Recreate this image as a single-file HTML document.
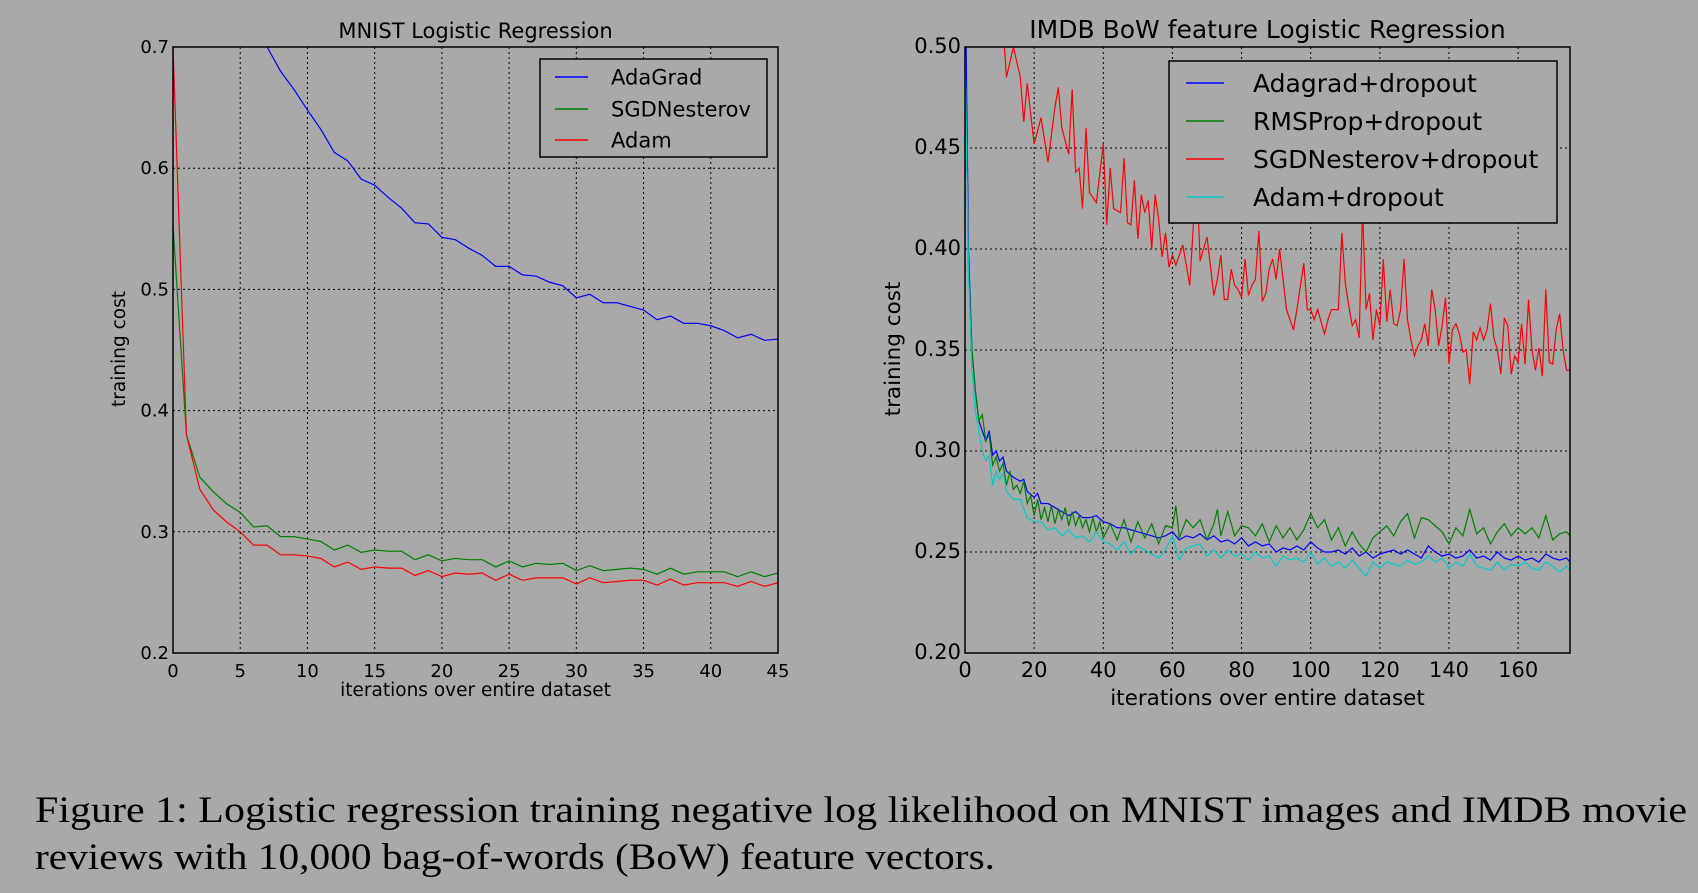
<!DOCTYPE html>
<html><head><meta charset="utf-8"><style>
html,body{margin:0;padding:0;background:#a9a9a9;}
svg{display:block;font-family:"DejaVu Sans","Liberation Sans",sans-serif;}
</style></head><body>
<svg id="fig" width="1698" height="893" viewBox="0 0 1698 893">
<rect x="0" y="0" width="1698" height="893" fill="#a9a9a9"/>
<defs>
<clipPath id="clipL"><rect x="173" y="47" width="605" height="606"/></clipPath>
<clipPath id="clipR"><rect x="965" y="47" width="605" height="606"/></clipPath>
</defs>
<g id="gL"></g>
<g id="gR"></g>
<text x="35" y="822" font-family="Liberation Serif, serif" font-size="37" fill="#000" textLength="1652" lengthAdjust="spacingAndGlyphs">Figure 1: Logistic regression training negative log likelihood on MNIST images and IMDB movie</text>
<text x="35" y="869" font-family="Liberation Serif, serif" font-size="37" fill="#000" textLength="960" lengthAdjust="spacingAndGlyphs">reviews with 10,000 bag-of-words (BoW) feature vectors.</text>
</svg>
<script>
// MNIST data
const mnistX = [...Array(46).keys()];
const mnistAdaGrad = [1.3,0.95,0.85,0.80,0.76,0.74,0.72,0.70,0.68,0.665,0.648,0.632,0.613,0.606,0.591,0.586,0.576,0.567,0.555,0.554,0.543,0.541,0.534,0.528,0.519,0.519,0.512,0.511,0.506,0.503,0.493,0.496,0.489,0.489,0.486,0.483,0.475,0.478,0.472,0.472,0.47,0.466,0.46,0.463,0.458,0.459];
const mnistSGD = [0.553,0.38,0.345,0.333,0.323,0.316,0.304,0.305,0.296,0.296,0.294,0.292,0.285,0.289,0.283,0.285,0.284,0.284,0.277,0.281,0.276,0.278,0.277,0.277,0.271,0.276,0.271,0.274,0.273,0.274,0.268,0.272,0.268,0.269,0.27,0.269,0.265,0.27,0.265,0.267,0.267,0.267,0.263,0.267,0.263,0.266];
const mnistAdam = [0.70,0.38,0.335,0.318,0.308,0.3,0.289,0.289,0.281,0.281,0.28,0.278,0.271,0.275,0.269,0.271,0.27,0.27,0.264,0.268,0.263,0.266,0.265,0.266,0.26,0.265,0.26,0.262,0.262,0.262,0.257,0.262,0.258,0.259,0.26,0.26,0.256,0.261,0.256,0.258,0.258,0.258,0.255,0.259,0.255,0.258];
const mnistXTicks = [0,5,10,15,20,25,30,35,40,45];
const mnistYTicks = [0.2,0.3,0.4,0.5,0.6,0.7];
const mnistYLabels = ["0.2","0.3","0.4","0.5","0.6","0.7"];

// IMDB data
const sgdX = [0,5,10,11,12,14,16,17,18,20,22,24,26,27,28,30,31,32,33,34,35,36,38,40,41,42,43,45,46,47,48,49,50,51,52,53,54,55,56,57,58,59,60,61,63,65,66,67,68,70,72,73,74,75,76,77,78,79,80,81,82,83,84,85,86,87,88,89,90,91,92,93,94,95,96,98,99,100,101,102,104,105,106,107,108,109,110,111,112,113,114,115,116,117,118,119,120,121,122,123,124,125,126,127,128,129,130,131,132,133,134,135,136,137,138,139,140,141,142,143,144,145,146,147,148,149,150,151,152,153,154,155,156,157,158,159,160,161,162,163,164,165,166,167,168,169,170,171,172,173,174,175];
const sgdY = [0.9,0.6,0.52,0.51,0.485,0.50,0.485,0.463,0.482,0.452,0.465,0.443,0.47,0.48,0.46,0.447,0.479,0.438,0.44,0.42,0.46,0.428,0.423,0.452,0.412,0.44,0.42,0.418,0.445,0.413,0.412,0.434,0.405,0.427,0.418,0.424,0.40,0.427,0.415,0.396,0.408,0.391,0.397,0.392,0.402,0.382,0.41,0.44,0.394,0.406,0.377,0.385,0.397,0.375,0.375,0.39,0.382,0.38,0.376,0.395,0.377,0.382,0.385,0.409,0.374,0.378,0.39,0.395,0.385,0.40,0.385,0.37,0.365,0.36,0.37,0.393,0.37,0.37,0.365,0.37,0.358,0.365,0.37,0.37,0.37,0.408,0.383,0.372,0.362,0.365,0.356,0.42,0.37,0.378,0.355,0.37,0.362,0.395,0.364,0.38,0.363,0.362,0.37,0.395,0.365,0.355,0.347,0.352,0.355,0.363,0.352,0.38,0.37,0.352,0.362,0.376,0.343,0.36,0.363,0.358,0.349,0.35,0.333,0.359,0.355,0.361,0.355,0.36,0.373,0.356,0.35,0.338,0.366,0.362,0.338,0.347,0.344,0.363,0.343,0.375,0.35,0.34,0.351,0.337,0.38,0.344,0.343,0.36,0.368,0.35,0.34,0.34];
const adaX = [0,1,2,3,4,5,6,7,8,9,10,11,12,14,16,17,18,20,21,22,24,26,28,30,32,34,36,38,40,42,44,46,48,50,52,54,56,58,60,62,64,66,68,70,72,74,76,78,80,82,84,86,88,90,92,94,96,98,100,102,104,106,108,110,112,114,116,118,120,122,124,126,128,130,132,134,136,138,140,142,144,146,148,150,152,154,156,158,160,162,164,166,168,170,172,174,175];
const adaY = [0.55,0.40,0.35,0.33,0.315,0.31,0.305,0.31,0.298,0.30,0.295,0.297,0.29,0.287,0.285,0.286,0.28,0.277,0.279,0.274,0.274,0.272,0.27,0.268,0.27,0.267,0.267,0.268,0.265,0.264,0.262,0.262,0.261,0.26,0.259,0.258,0.257,0.258,0.26,0.256,0.258,0.257,0.259,0.256,0.258,0.255,0.256,0.254,0.257,0.253,0.255,0.253,0.254,0.25,0.252,0.251,0.253,0.251,0.255,0.252,0.25,0.25,0.251,0.249,0.252,0.248,0.25,0.247,0.249,0.25,0.251,0.249,0.251,0.249,0.247,0.253,0.25,0.248,0.249,0.247,0.248,0.251,0.247,0.248,0.246,0.25,0.247,0.246,0.248,0.246,0.247,0.245,0.249,0.247,0.246,0.247,0.245];
const rmsX = [0,1,2,3,4,5,6,7,8,9,10,11,12,13,14,15,16,17,18,19,20,21,22,23,24,25,26,27,28,29,30,31,32,33,34,35,36,37,38,39,40,42,44,46,48,50,52,54,56,58,60,61,62,64,66,68,70,72,73,74,76,78,80,82,84,86,88,90,92,94,96,98,100,102,104,106,108,110,112,114,116,118,120,122,124,126,128,130,132,134,136,138,140,142,144,146,148,150,152,154,156,158,160,162,164,166,168,170,172,174,175];
const rmsY = [0.5,0.39,0.35,0.33,0.315,0.318,0.305,0.308,0.293,0.297,0.29,0.294,0.283,0.29,0.281,0.283,0.279,0.285,0.274,0.278,0.268,0.276,0.266,0.272,0.265,0.273,0.264,0.271,0.266,0.272,0.263,0.27,0.263,0.268,0.262,0.266,0.26,0.267,0.26,0.265,0.257,0.264,0.256,0.266,0.255,0.265,0.257,0.264,0.254,0.263,0.262,0.273,0.257,0.266,0.262,0.266,0.256,0.264,0.271,0.258,0.27,0.258,0.263,0.262,0.258,0.264,0.255,0.263,0.257,0.262,0.256,0.261,0.269,0.262,0.266,0.256,0.262,0.253,0.26,0.254,0.25,0.257,0.26,0.263,0.258,0.265,0.269,0.257,0.267,0.266,0.263,0.26,0.254,0.262,0.258,0.271,0.259,0.262,0.254,0.26,0.264,0.258,0.262,0.259,0.262,0.257,0.268,0.256,0.259,0.26,0.258];
const adamX = [0,1,2,3,4,5,6,7,8,9,10,11,12,14,16,18,20,22,24,26,28,30,32,34,36,38,40,42,44,46,48,50,52,54,56,58,60,62,64,66,68,70,72,74,76,78,80,82,84,86,88,90,92,94,96,98,100,102,104,106,108,110,112,114,116,118,120,122,124,126,128,130,132,134,136,138,140,142,144,146,148,150,152,154,156,158,160,162,164,166,168,170,172,174,175];
const adamY = [0.5,0.39,0.34,0.32,0.31,0.30,0.295,0.298,0.283,0.29,0.286,0.289,0.28,0.276,0.276,0.267,0.265,0.265,0.261,0.262,0.258,0.261,0.257,0.258,0.255,0.26,0.255,0.254,0.251,0.255,0.249,0.253,0.251,0.249,0.247,0.251,0.258,0.246,0.252,0.253,0.254,0.248,0.251,0.247,0.251,0.248,0.249,0.246,0.25,0.247,0.248,0.243,0.248,0.246,0.247,0.245,0.25,0.244,0.247,0.243,0.245,0.242,0.246,0.242,0.238,0.245,0.242,0.245,0.244,0.243,0.246,0.244,0.245,0.248,0.245,0.247,0.242,0.245,0.243,0.249,0.243,0.242,0.241,0.245,0.241,0.244,0.243,0.245,0.242,0.241,0.245,0.243,0.24,0.243,0.241];
const imdbXTicks = [0,20,40,60,80,100,120,140,160];
const imdbYTicks = [0.20,0.25,0.30,0.35,0.40,0.45,0.50];
const imdbYLabels = ["0.20","0.25","0.30","0.35","0.40","0.45","0.50"];

const NS = "http://www.w3.org/2000/svg";
function mk(parent, tag, attrs, txt){
  const e = document.createElementNS(NS, tag);
  for (const k in attrs) e.setAttribute(k, attrs[k]);
  if (txt !== undefined) e.textContent = txt;
  parent.appendChild(e);
  return e;
}

function drawChart(g, cfg){
  const L=cfg.left, R=cfg.right, T=47, B=653;
  const sx = v => L + (v - cfg.xmin)/(cfg.xmax - cfg.xmin)*(R-L);
  const sy = v => B - (v - cfg.ymin)/(cfg.ymax - cfg.ymin)*(B-T);
  const bg = mk(g,'rect',{x:L,y:T,width:R-L,height:B-T,fill:'#a9a9a9'});
  
  
  cfg.xTicks.forEach(t=>{
    const gl = mk(g,'line',{x1:sx(t),x2:sx(t),y1:T,y2:B,stroke:'#000','stroke-width':1,'stroke-dasharray':'2,3'});
    
    
    const tl = mk(g,'text',{x:sx(t),y:B+24,'text-anchor':'middle','font-size':cfg.tickFont,fill:'#000'}, String(t));
    
    
  });
  cfg.yTicks.forEach((t,i)=>{
    const gl = mk(g,'line',{x1:L,x2:R,y1:sy(t),y2:sy(t),stroke:'#000','stroke-width':1,'stroke-dasharray':'2,3'});
    
    
    const tl = mk(g,'text',{x:L-4,y:sy(t)+6,'text-anchor':'end','font-size':cfg.tickFont,fill:'#000'}, cfg.yLabels[i]);
    
    
  });
  const sg = mk(g,'g',{'clip-path':`url(#${cfg.clip})`});
  
  
  cfg.series.forEach(s=>{
    const d = s.x.map((xv,i)=>(i?'L':'M')+sx(xv).toFixed(2)+','+sy(s.y[i]).toFixed(2)).join(' ');
    const p = mk(sg,'path',{d:d,fill:'none',stroke:s.color,'stroke-width':1.2});
    
    
  });
  const fr = mk(g,'rect',{x:L,y:T,width:R-L,height:B-T,fill:'none',stroke:'#000','stroke-width':1.5});
  
  
  const ti = mk(g,'text',{x:(L+R)/2,y:38,'text-anchor':'middle','font-size':cfg.titleFont,fill:'#000'}, cfg.title);
  
  
  const xl = mk(g,'text',{x:(L+R)/2,y:cfg.xlabY,'text-anchor':'middle','font-size':cfg.labFont,fill:'#000'}, 'iterations over entire dataset');
  
  
  const yl = mk(g,'text',{x:0,y:0,'text-anchor':'middle','font-size':cfg.labFont,fill:'#000',transform:`translate(${cfg.ylabX},349) rotate(-90)`}, 'training cost');
  
  
  const lg = cfg.legend;
  const lb = mk(g,'rect',{x:lg.x,y:lg.y,width:lg.w,height:lg.h,fill:'#a9a9a9',stroke:'#000','stroke-width':1.5});
  
  
  cfg.series.forEach((s,i)=>{
    const yy = lg.ys[i];
    const ll = mk(g,'line',{x1:lg.lx1,x2:lg.lx2,y1:yy,y2:yy,stroke:s.color,'stroke-width':1.5});
    
    
    const lt = mk(g,'text',{x:lg.tx,y:yy+lg.font*0.36,'font-size':lg.font,fill:'#000'}, s.label);
    
    
  });
}

drawChart(document.getElementById('gL'),{
  left:173,right:778,xmin:0,xmax:45,ymin:0.2,ymax:0.7,clip:'clipL',
  xTicks:mnistXTicks,yTicks:mnistYTicks,yLabels:mnistYLabels,tickFont:18,titleFont:21,labFont:18.5,
  title:'MNIST Logistic Regression',xlabY:696,ylabX:125,
  series:[
    {name:'adagrad-line',label:'AdaGrad',color:'#0000ff',x:mnistX,y:mnistAdaGrad},
    {name:'sgdnesterov-line',label:'SGDNesterov',color:'#008000',x:mnistX,y:mnistSGD},
    {name:'adam-line',label:'Adam',color:'#ff0000',x:mnistX,y:mnistAdam}
  ],
  legend:{x:540,y:59,w:227,h:98,ys:[77,109,140],lx1:555,lx2:588,tx:611,font:21}
});
drawChart(document.getElementById('gR'),{
  left:965,right:1570,xmin:0,xmax:175,ymin:0.2,ymax:0.5,clip:'clipR',
  xTicks:imdbXTicks,yTicks:imdbYTicks,yLabels:imdbYLabels,tickFont:21,titleFont:25,labFont:21.5,
  title:'IMDB BoW feature Logistic Regression',xlabY:705,ylabX:900,
  series:[
    {name:'adagrad-dropout-line',label:'Adagrad+dropout',color:'#0000ff',x:adaX,y:adaY},
    {name:'rmsprop-dropout-line',label:'RMSProp+dropout',color:'#008000',x:rmsX,y:rmsY},
    {name:'sgdnesterov-dropout-line',label:'SGDNesterov+dropout',color:'#ff0000',x:sgdX,y:sgdY},
    {name:'adam-dropout-line',label:'Adam+dropout',color:'#00cccc',x:adamX,y:adamY}
  ],
  legend:{x:1169,y:61,w:388,h:162,ys:[83,121,159,197],lx1:1186,lx2:1224,tx:1253,font:25}
});
</script>
</body></html>
